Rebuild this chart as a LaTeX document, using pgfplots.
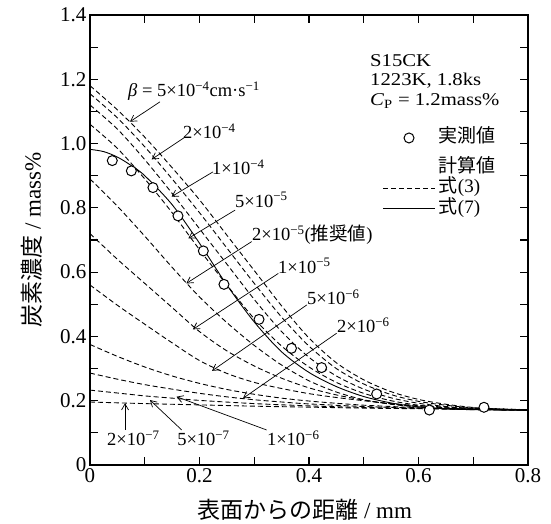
\documentclass[border=0pt]{standalone}
\usepackage{fontspec}
\setmainfont{Liberation Serif}
\newfontfamily\jp{Noto Sans CJK JP}
\usepackage{pgfplots}
\pgfplotsset{compat=1.18}
\usetikzlibrary{arrows.meta}
\pgfplotsset{
  linelegend/.style={legend image code/.code={\draw[##1] (0pt,0pt)--(52pt,0pt);}},
  marklegend/.style={legend image code/.code={\path[draw=none,fill=none] (0pt,-1pt) rectangle (52pt,1pt); \draw[##1] plot coordinates {(26pt,0pt)};}},
  mylegend/.style={legend style={draw=none, fill=none, inner sep=0pt, outer sep=0pt,
    row sep=0pt, column sep=3pt,
    nodes={inner sep=0pt, text height=15pt, text depth=5pt},
    font=\fontsize{19}{22}\selectfont}, legend cell align=left},
}
\begin{document}
\begin{tikzpicture}
\useasboundingbox (-90pt,-59pt) rectangle (461pt,465pt);
\begin{axis}[
  scale only axis, width=438pt, height=450pt,
  xmin=0, xmax=0.8, ymin=0, ymax=1.4,
  xtick={0,0.2,0.4,0.6,0.8}, xticklabels={0,0.2,0.4,0.6,0.8},
  ytick={0,0.2,0.4,0.6,0.8,1.0,1.2,1.4}, yticklabels={0,0.2,0.4,0.6,0.8,1.0,1.2,1.4},
  minor xtick={0.1,0.3,0.5,0.7}, minor ytick={0.1,0.3,0.5,0.7,0.9,1.1,1.3},
  tick align=inside, major tick length=8pt, minor tick length=8pt,
  every tick/.style={black, line width=1.2pt},
  axis line style={line width=2.5pt},
  ticklabel style={font=\fontsize{21}{25}\selectfont},
  /pgf/number format/assume math mode=true,
  xlabel={{\jp 表面からの距離} / mm},
  ylabel={{\jp 炭素濃度} / mass\%},
  label style={font=\fontsize{23}{27}\selectfont},
  xlabel style={at={(axis description cs:0.49,-0.1)}, anchor=center},
  ylabel style={at={(axis description cs:-0.1324,0.5)}, anchor=center},
  mylegend,
  legend style={at={(axis description cs:0.669,0.7267)}, anchor=west},
  dashc/.style={black, line width=0.9pt, dash pattern=on 5pt off 3pt, smooth},
]
\addlegendimage{only marks, mark=*, mark size=5pt, mark options={fill=white, draw=black, line width=1pt}, marklegend}
\addlegendentry{{\jp 実測値}}

% beta = 5e-4
\addplot[dashc, forget plot] coordinates {(0,1.18)(0.05,1.105)(0.1,1.02)(0.15,0.925)(0.2,0.825)(0.25,0.715)(0.3,0.605)(0.35,0.495)(0.4,0.395)(0.45,0.318)(0.5,0.265)(0.55,0.228)(0.6,0.204)(0.65,0.189)(0.7,0.179)(0.75,0.174)(0.8,0.172)};
% 2e-4
\addplot[dashc, forget plot] coordinates {(0,1.155)(0.05,1.08)(0.1,0.99)(0.15,0.89)(0.2,0.785)(0.25,0.675)(0.3,0.565)(0.35,0.46)(0.4,0.37)(0.45,0.3)(0.5,0.252)(0.55,0.219)(0.6,0.198)(0.65,0.186)(0.7,0.178)(0.8,0.172)};
% 1e-4
\addplot[dashc, forget plot] coordinates {(0,1.12)(0.05,1.045)(0.1,0.95)(0.15,0.845)(0.2,0.735)(0.25,0.625)(0.3,0.515)(0.35,0.415)(0.4,0.335)(0.45,0.277)(0.5,0.236)(0.55,0.209)(0.6,0.192)(0.65,0.182)(0.7,0.176)(0.8,0.171)};
% 5e-5
\addplot[dashc, forget plot] coordinates {(0,1.06)(0.05,0.985)(0.1,0.89)(0.15,0.785)(0.2,0.67)(0.25,0.56)(0.3,0.455)(0.35,0.37)(0.4,0.305)(0.45,0.257)(0.5,0.223)(0.55,0.2)(0.6,0.186)(0.65,0.178)(0.7,0.174)(0.8,0.17)};
% 2e-5
\addplot[dashc, forget plot] coordinates {(0,0.89)(0.05,0.805)(0.1,0.712)(0.15,0.615)(0.2,0.523)(0.25,0.443)(0.3,0.372)(0.35,0.311)(0.4,0.262)(0.45,0.227)(0.5,0.203)(0.55,0.189)(0.6,0.18)(0.65,0.175)(0.7,0.172)(0.8,0.17)};
% 1e-5
\addplot[dashc, forget plot] coordinates {(0,0.72)(0.05,0.64)(0.1,0.565)(0.15,0.49)(0.2,0.415)(0.25,0.355)(0.3,0.308)(0.35,0.27)(0.4,0.24)(0.45,0.218)(0.5,0.202)(0.55,0.19)(0.6,0.182)(0.65,0.177)(0.7,0.174)(0.8,0.17)};
% 5e-6
\addplot[dashc, forget plot] coordinates {(0,0.56)(0.05,0.497)(0.1,0.438)(0.15,0.38)(0.2,0.325)(0.25,0.285)(0.3,0.257)(0.35,0.238)(0.4,0.222)(0.45,0.21)(0.5,0.2)(0.55,0.191)(0.6,0.185)(0.65,0.18)(0.7,0.176)(0.8,0.171)};
% 2e-6
\addplot[dashc, forget plot] coordinates {(0,0.375)(0.05,0.338)(0.1,0.305)(0.15,0.277)(0.2,0.254)(0.25,0.235)(0.3,0.22)(0.35,0.208)(0.4,0.199)(0.45,0.192)(0.5,0.186)(0.55,0.182)(0.6,0.178)(0.7,0.174)(0.8,0.171)};
% 1e-6
\addplot[dashc, forget plot] coordinates {(0,0.286)(0.05,0.267)(0.1,0.25)(0.15,0.236)(0.2,0.223)(0.25,0.212)(0.3,0.203)(0.35,0.196)(0.4,0.19)(0.5,0.182)(0.6,0.177)(0.7,0.174)(0.8,0.172)};
% 5e-7
\addplot[dashc, forget plot] coordinates {(0,0.233)(0.05,0.224)(0.1,0.215)(0.15,0.208)(0.2,0.201)(0.3,0.191)(0.4,0.184)(0.5,0.179)(0.6,0.176)(0.7,0.173)(0.8,0.172)};
% 2e-7
\addplot[dashc, forget plot] coordinates {(0,0.196)(0.1,0.191)(0.2,0.187)(0.3,0.183)(0.4,0.18)(0.5,0.177)(0.6,0.175)(0.7,0.173)(0.8,0.172)};
% solid: eq (7)
\addplot[black, line width=0.9pt, smooth, forget plot] coordinates {(0,0.982)(0.025,0.975)(0.05,0.958)(0.075,0.932)(0.1,0.9)(0.15,0.81)(0.2,0.69)(0.25,0.56)(0.3,0.445)(0.35,0.352)(0.4,0.288)(0.45,0.244)(0.5,0.213)(0.55,0.193)(0.6,0.181)(0.65,0.175)(0.7,0.172)(0.8,0.17)};
% measured
\addplot[only marks, mark=*, mark size=5pt, mark options={fill=white, draw=black, line width=1pt}, forget plot] coordinates {(0.0407,0.947)(0.0755,0.915)(0.115,0.863)(0.1607,0.775)(0.207,0.666)(0.2447,0.562)(0.3087,0.453)(0.368,0.363)(0.423,0.303)(0.5236,0.221)(0.6198,0.171)(0.7196,0.1795)};

% annotations
\tikzset{lead/.style={line width=0.7pt, -{Straight Barb[length=6pt,width=7pt]}},
         lab/.style={anchor=west, inner sep=0pt, font=\fontsize{18.5}{21}\selectfont},
         blk/.style={anchor=base west, inner sep=0pt, xscale=1.15, font=\fontsize{18}{20}\selectfont}}
\node[lab] at (axis cs:0.0694,1.1637) {\textit{β} = 5×10\textsuperscript{−4}cm·s\textsuperscript{−1}};
\draw[lead] (axis cs:0.1279,1.1299) -- (axis cs:0.073,1.068);
\node[lab] at (axis cs:0.1699,1.0392) {2×10\textsuperscript{−4}};
\draw[lead] (axis cs:0.1735,1.02) -- (axis cs:0.1127,0.951);
\node[lab] at (axis cs:0.2228,0.9272) {1×10\textsuperscript{−4}};
\draw[lead] (axis cs:0.2247,0.912) -- (axis cs:0.149,0.835);
\node[lab] at (axis cs:0.2648,0.8245) {5×10\textsuperscript{−5}};
\draw[lead] (axis cs:0.265,0.793) -- (axis cs:0.1796,0.705);
\node[lab] at (axis cs:0.2959,0.7156) {2×10\textsuperscript{−5}({\jp 推奨値})};
\draw[lead] (axis cs:0.2953,0.695) -- (axis cs:0.176,0.565);
\node[lab] at (axis cs:0.3434,0.6192) {1×10\textsuperscript{−5}};
\draw[lead] (axis cs:0.344,0.596) -- (axis cs:0.188,0.422);
\node[lab] at (axis cs:0.3963,0.5227) {5×10\textsuperscript{−6}};
\draw[lead] (axis cs:0.396,0.498) -- (axis cs:0.223,0.293);
\node[lab] at (axis cs:0.4511,0.4356) {2×10\textsuperscript{−6}};
\draw[lead] (axis cs:0.4505,0.41) -- (axis cs:0.2795,0.2075);
\node[lab] at (axis cs:0.031,0.084) {2×10\textsuperscript{−7}};
\draw[lead] (axis cs:0.064,0.109) -- (axis cs:0.064,0.192);
\node[lab] at (axis cs:0.159,0.084) {5×10\textsuperscript{−7}};
\draw[lead] (axis cs:0.1675,0.109) -- (axis cs:0.1096,0.202);
\node[lab] at (axis cs:0.323,0.084) {1×10\textsuperscript{−6}};
\draw[lead] (axis cs:0.3226,0.109) -- (axis cs:0.158,0.2125);

\node[blk] at (axis cs:0.5114,1.2399) {S15CK};
\node[blk] at (axis cs:0.5114,1.1792) {1223K, 1.8ks};
\node[blk] at (axis cs:0.5114,1.1185) {\textit{C}\textsubscript{P} = 1.2mass\%};
\end{axis}
\begin{axis}[
  scale only axis, width=438pt, height=450pt,
  xmin=0, xmax=0.8, ymin=0, ymax=1.4, hide axis,
  mylegend,
  legend style={at={(axis description cs:0.669,0.6822)}, anchor=north west},
]
\addlegendimage{empty legend}
\addlegendentry{{\jp 計算値}}
\addlegendimage{black, line width=0.9pt, dash pattern=on 5pt off 3pt, linelegend}
\addlegendentry{{\jp 式}(3)}
\addlegendimage{black, line width=0.9pt, linelegend}
\addlegendentry{{\jp 式}(7)}
\end{axis}
\end{tikzpicture}
\end{document}
